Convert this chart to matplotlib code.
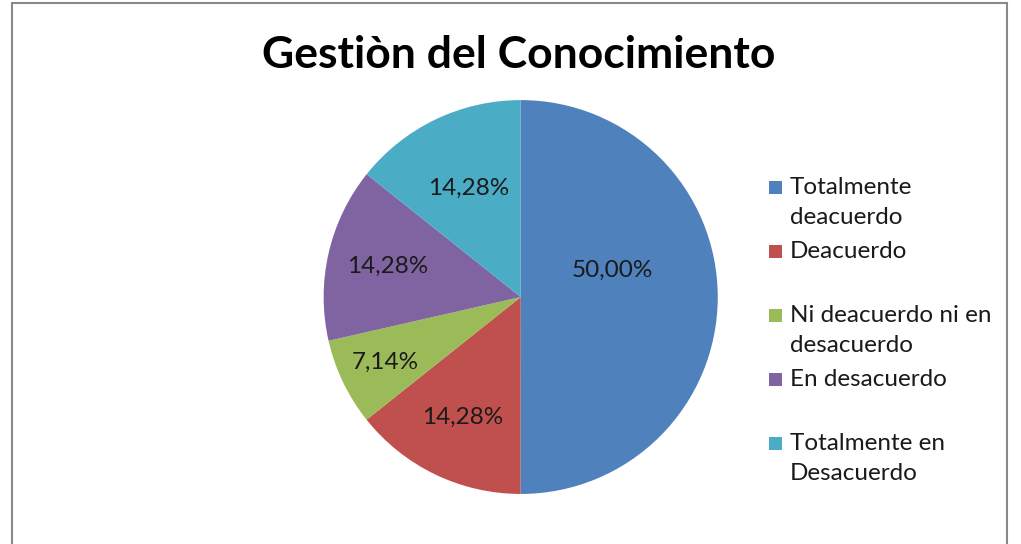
import numpy as np
import matplotlib.pyplot as plt
from matplotlib.patches import Rectangle

title = "Gestiòn del Conocimiento"
categories = ['Totalmente\ndeacuerdo', 'Deacuerdo', 'Ni deacuerdo ni en\ndesacuerdo',
              'En desacuerdo', 'Totalmente en\nDesacuerdo']
percentages = [50.00, 14.28, 7.14, 14.28, 14.28]
colors = ['#4F81BD', '#C0504D', '#9BBB59', '#8064A2', '#4BACC6']
label_dist = [0.485, 0.68, 0.76, 0.69, 0.61]
label_turn = [16, 0, 0, 0, 0]  # degrees, the big slice's label sits a bit above its middle

W, H = 1021, 544
plt.rcParams['font.family'] = ['Lato', 'DejaVu Sans']

fig = plt.figure(figsize=(W / 100, H / 100), dpi=100)

# outer frame of the chart area
fig.patches.append(Rectangle((11.5 / W, -0.02), (1007 - 11.5) / W, 1.02 - 3.5 / H,
                             transform=fig.transFigure, fill=False,
                             edgecolor='#888888', linewidth=1.5))

ax = fig.add_axes([0.317, 0.092, 0.386, 0.724])
labels = [('%.2f%%' % p).replace('.', ',') for p in percentages]
wedges, texts = ax.pie(percentages, colors=colors, startangle=90, counterclock=False,
                       labels=labels, labeldistance=0.6,
                       textprops=dict(fontsize=17.5, color='#1a1a1a', ha='center', va='center'))
# move each percent label along its wedge's middle direction
for w, t, d, turn in zip(wedges, texts, label_dist, label_turn):
    ang = np.deg2rad((w.theta1 + w.theta2) / 2 + turn)
    t.set_position((d * np.cos(ang), d * np.sin(ang)))
ax.set_xlim(-1, 1)
ax.set_ylim(-1, 1)
ax.set_aspect('auto')

fig.text(519 / W, 1 - 55 / H, title, ha='center', va='center',
         fontsize=32, fontweight='bold', color='black')

# legend
y = 187
for cat, col in zip(categories, colors):
    fig.patches.append(Rectangle((769 / W, 1 - (y + 6.5) / H), 13 / W, 13 / H,
                                 transform=fig.transFigure, facecolor=col, edgecolor='none'))
    for k, line in enumerate(cat.split('\n')):
        fig.text(790 / W, 1 - (y + 31 * k) / H, line, ha='left', va='center',
                 fontsize=17.5, color='#1a1a1a')
    y += 64

fig.savefig('out.png', dpi=100, facecolor='white')
